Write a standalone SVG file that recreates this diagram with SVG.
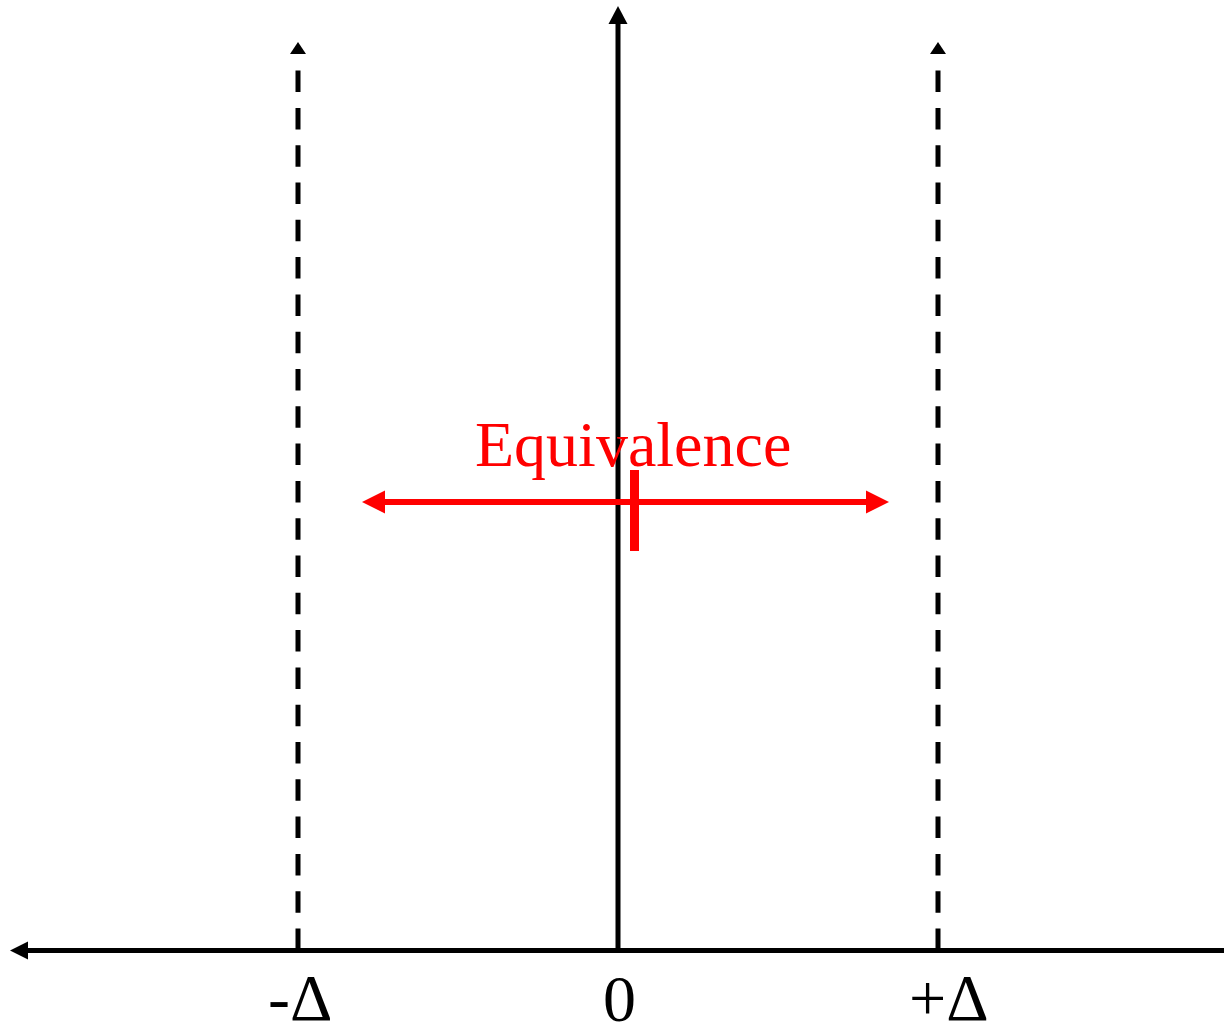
<svg xmlns="http://www.w3.org/2000/svg" width="1224" height="1026" viewBox="0 0 1224 1026">
<style>
.axis{stroke:#000;stroke-width:5;fill:none}
.dash{stroke:#000;stroke-width:5;fill:none;stroke-dasharray:21.5 15.8}
.red{stroke:#ff0000;stroke-width:6;fill:none}
.lbl{font-family:"Liberation Serif","Times New Roman",serif;fill:#000;font-size:66px}
.eq{font-family:"Liberation Serif","Times New Roman",serif;fill:#ff0000;font-size:64px}
</style>
<rect width="1224" height="1026" fill="#fff"/>
<g id="connectors">
<line class="axis" x1="1224" y1="950.5" x2="27" y2="950.5"/>
<polygon points="10,950.5 28,941.5 28,959.5" fill="#000"/>
<line class="axis" x1="618" y1="950" x2="618" y2="23"/>
<polygon points="618,6 608.5,24 627.5,24" fill="#000"/>
<line class="dash" x1="298" y1="950" x2="298" y2="55"/>
<polygon points="298,42 290,54 306,54" fill="#000"/>
<line class="dash" x1="938" y1="950" x2="938" y2="55"/>
<polygon points="938,42 930,54 946,54" fill="#000"/>
</g>
<g id="equivalence">
<line class="red" x1="383" y1="502" x2="868" y2="502"/>
<polygon points="362,502 385,490.5 385,513.5" fill="#ff0000"/>
<polygon points="889,502 866,490.5 866,513.5" fill="#ff0000"/>
<rect x="630" y="470" width="9" height="81" fill="#ff0000"/>
<text class="eq" x="475" y="466">Equivalence</text>
</g>
<g id="labels">
<text class="lbl" x="268" y="1020">-Δ</text>
<text class="lbl" x="603" y="1021">0</text>
<text class="lbl" x="909" y="1020">+Δ</text>
</g>
</svg>
